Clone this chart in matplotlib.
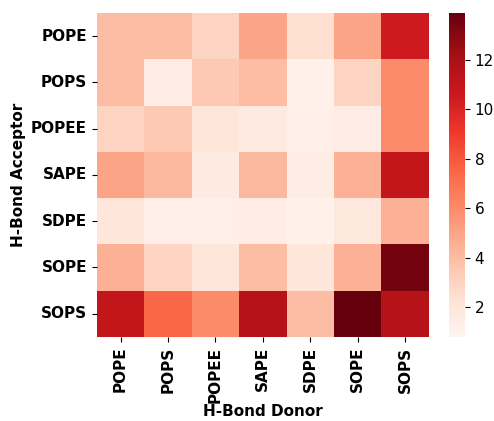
import matplotlib
matplotlib.use("Agg")
import numpy as np
import matplotlib.pyplot as plt
import seaborn as sns

# lipid names
acceptors = ["POPE", "POPS", "POPEE", "SAPE", "SDPE", "SOPE", "SOPS"]
donors = ["POPE", "POPS", "POPEE", "SAPE", "SDPE", "SOPE", "SOPS"]

# hbond counts, rows = acceptor, cols = donor
pope = [4.0, 4.0, 3.0, 5.0, 2.5, 5.0, 10.5]
pops = [4.0, 1.5, 3.5, 4.0, 1.2, 3.0, 6.0]
popee = [3.0, 3.5, 2.0, 1.7, 1.3, 1.5, 6.0]
sape = [5.0, 4.2, 1.7, 4.2, 1.5, 4.5, 11.0]
sdpe = [2.0, 1.3, 1.3, 1.5, 1.2, 1.8, 4.5]
sope = [4.5, 3.0, 2.0, 4.0, 2.0, 4.5, 13.5]
sops = [11.0, 7.5, 6.0, 11.5, 4.0, 13.9, 11.5]

data = np.array([pope, pops, popee, sape, sdpe, sope, sops])

fig = plt.figure(figsize=(4.94, 4.21), dpi=100)
ax = fig.add_axes([0.196, 0.2, 0.672, 0.769])
cax = fig.add_axes([0.909, 0.2, 0.032, 0.769])

sns.heatmap(data, cmap="Reds", ax=ax, cbar_ax=cax,
            xticklabels=donors, yticklabels=acceptors, vmin=0.8, vmax=13.9)

fs = 11
ax.set_xticklabels(donors, rotation=90, fontweight="bold", fontsize=fs)
ax.set_yticklabels(acceptors, rotation=0, fontweight="bold", fontsize=fs)
ax.set_xlabel("H-Bond Donor", fontweight="bold", fontsize=fs, labelpad=1)
ax.set_ylabel("H-Bond Acceptor", fontweight="bold", fontsize=fs)
cax.tick_params(labelsize=fs)
cax.set_yticks([2, 4, 6, 8, 10, 12])

fig.savefig("out.png", dpi=100)
